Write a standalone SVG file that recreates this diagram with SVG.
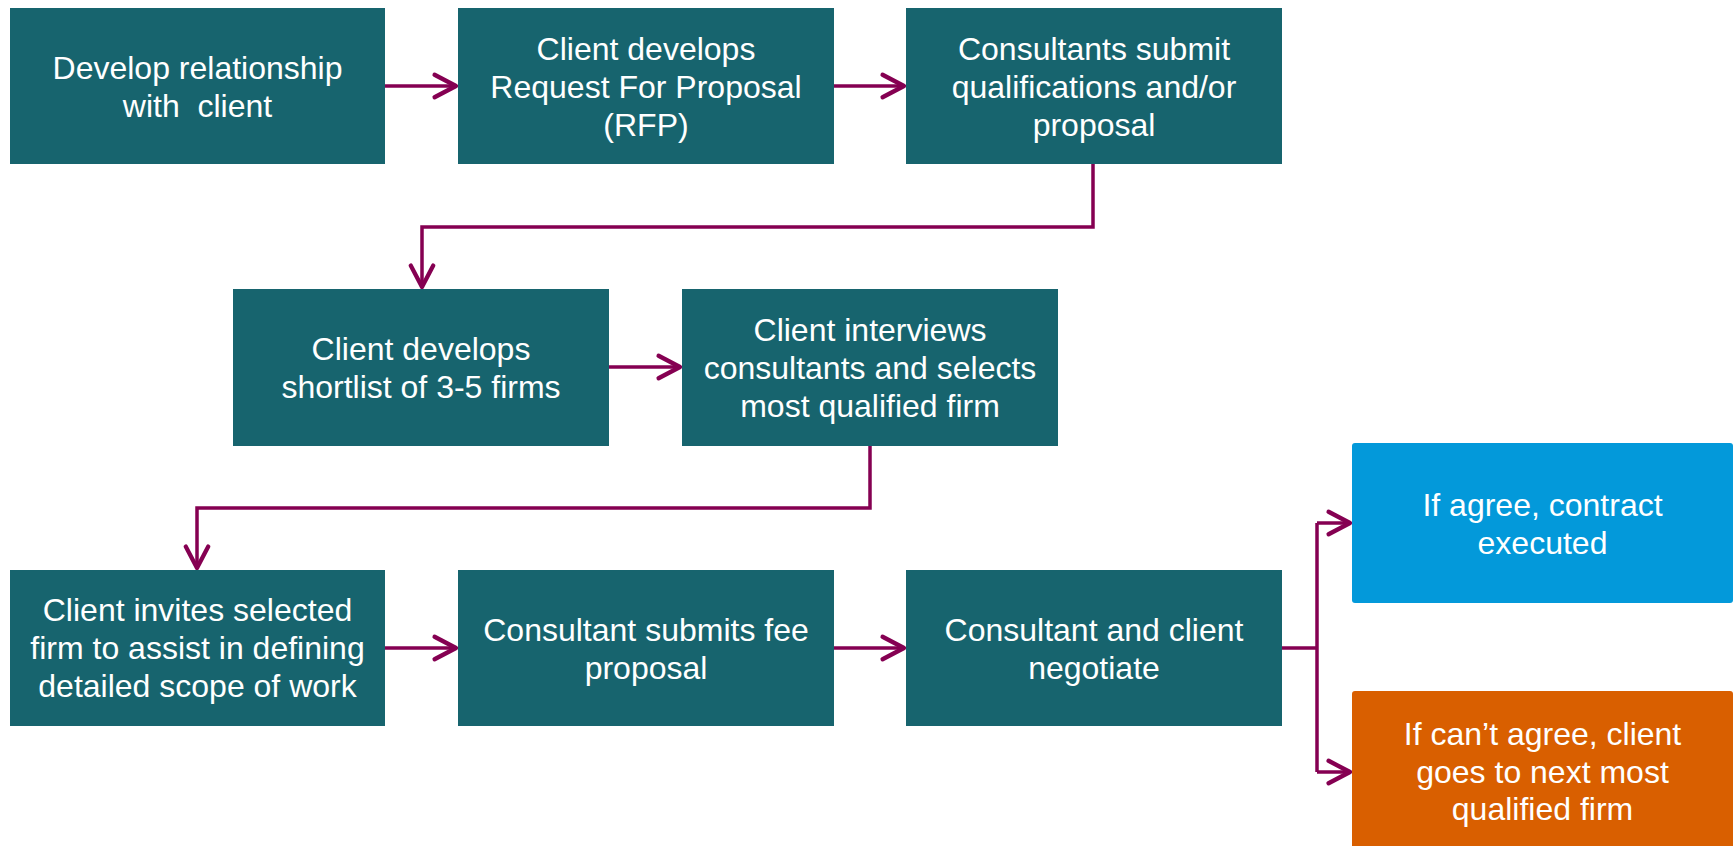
<svg xmlns="http://www.w3.org/2000/svg" width="1734" height="846" viewBox="0 0 1734 846">
<style>
.box{fill:#17646E}
.blue{fill:#0399DA}
.orange{fill:#D95F00}
.t{font-family:"Liberation Sans",Arial,sans-serif;font-size:32px;fill:#FFFFFF;text-anchor:middle;white-space:pre}
.c{fill:none;stroke:#850052;stroke-width:3.5}
</style>
<defs>
<marker id="ah" markerUnits="userSpaceOnUse" markerWidth="30" markerHeight="30" viewBox="-24 -14 28 28" refX="0" refY="0" orient="auto">
<path d="M -20 -10.5 L 0 0 L -20 10.5" fill="none" stroke="#850052" stroke-width="4" stroke-linecap="round" stroke-linejoin="round"/>
</marker>
</defs>
<rect width="1734" height="846" fill="#FFFFFF"/>
<g id="connectors">
<path class="c" d="M385 86 H456" marker-end="url(#ah)"/>
<path class="c" d="M834 86 H904" marker-end="url(#ah)"/>
<path class="c" d="M1093 164 V227 H422 V287" marker-end="url(#ah)"/>
<path class="c" d="M609 367 H680" marker-end="url(#ah)"/>
<path class="c" d="M870 446 V508 H197 V568" marker-end="url(#ah)"/>
<path class="c" d="M385 648 H456" marker-end="url(#ah)"/>
<path class="c" d="M834 648 H904" marker-end="url(#ah)"/>
<path class="c" d="M1282 648 H1317"/>
<path class="c" d="M1317 523 V772"/>
<path class="c" d="M1317 523 H1350" marker-end="url(#ah)"/>
<path class="c" d="M1317 772 H1350" marker-end="url(#ah)"/>
</g>
<g id="n1">
<rect class="box" x="10" y="8" width="375" height="156"/>
<text class="t" x="197.5" y="79">Develop relationship</text>
<text class="t" x="197.5" y="117">with  client</text>
</g>
<g id="n2">
<rect class="box" x="458" y="8" width="376" height="156"/>
<text class="t" x="646" y="60">Client develops</text>
<text class="t" x="646" y="98">Request For Proposal</text>
<text class="t" x="646" y="136">(RFP)</text>
</g>
<g id="n3">
<rect class="box" x="906" y="8" width="376" height="156"/>
<text class="t" x="1094" y="60">Consultants submit</text>
<text class="t" x="1094" y="98">qualifications and/or</text>
<text class="t" x="1094" y="136">proposal</text>
</g>
<g id="n4">
<rect class="box" x="233" y="289" width="376" height="157"/>
<text class="t" x="421" y="360">Client develops</text>
<text class="t" x="421" y="398">shortlist of 3-5 firms</text>
</g>
<g id="n5">
<rect class="box" x="682" y="289" width="376" height="157"/>
<text class="t" x="870" y="341">Client interviews</text>
<text class="t" x="870" y="379">consultants and selects</text>
<text class="t" x="870" y="417">most qualified firm</text>
</g>
<g id="n6">
<rect class="box" x="10" y="570" width="375" height="156"/>
<text class="t" x="197.5" y="621">Client invites selected</text>
<text class="t" x="197.5" y="659">firm to assist in defining</text>
<text class="t" x="197.5" y="697">detailed scope of work</text>
</g>
<g id="n7">
<rect class="box" x="458" y="570" width="376" height="156"/>
<text class="t" x="646" y="641">Consultant submits fee</text>
<text class="t" x="646" y="679">proposal</text>
</g>
<g id="n8">
<rect class="box" x="906" y="570" width="376" height="156"/>
<text class="t" x="1094" y="641">Consultant and client</text>
<text class="t" x="1094" y="679">negotiate</text>
</g>
<g id="n9">
<rect class="blue" x="1352" y="443" width="381" height="160" rx="3"/>
<text class="t" x="1542.5" y="516">If agree, contract</text>
<text class="t" x="1542.5" y="554">executed</text>
</g>
<g id="n10">
<rect class="orange" x="1352" y="691" width="381" height="162" rx="3"/>
<text class="t" x="1542.5" y="745">If can’t agree, client</text>
<text class="t" x="1542.5" y="783">goes to next most</text>
<text class="t" x="1542.5" y="820">qualified firm</text>
</g>
</svg>
